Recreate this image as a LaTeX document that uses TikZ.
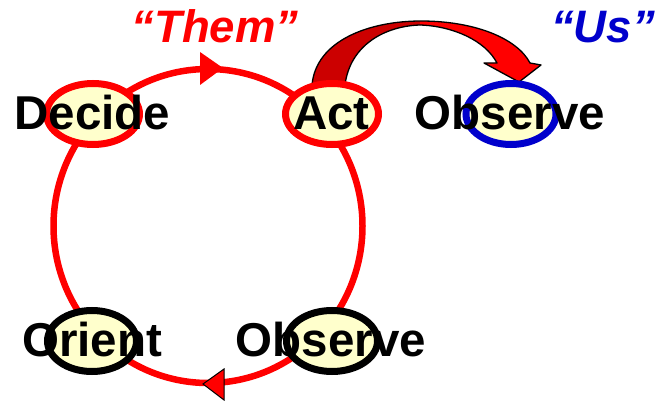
\documentclass[tikz,border=0pt]{standalone}
\usepackage{fontspec}
\setmainfont{Liberation Sans}
\usetikzlibrary{shapes.geometric}
\definecolor{ovfill}{HTML}{FFFFCC}
\definecolor{ovred}{HTML}{FF0000}
\definecolor{ovdark}{HTML}{CC0000}
\definecolor{ovblue}{HTML}{0000CC}
\begin{document}
\begin{tikzpicture}[x=1pt,y=-1pt,
  oval/.style={ellipse,draw,line width=7pt,fill=ovfill,inner sep=0pt,minimum width=93pt,minimum height=61pt},
  word/.style={anchor=base,inner sep=0pt,font=\fontsize{47.5}{50}\selectfont\bfseries},
  quote/.style={anchor=base,inner sep=0pt,font=\fontsize{45.5}{48}\selectfont\bfseries\itshape}]
\useasboundingbox (0,0) rectangle (659,401);
% loop
\coordinate (loopc) at (208,226);
\draw[ovred,line width=6.5pt] (loopc) ellipse [x radius=154.5, y radius=157];
% loop arrowheads
\fill[ovred] (223,68) -- (200,52) -- (200,85) -- cycle;
\filldraw[fill=ovred,draw=black,line width=1pt] (203,384) -- (224,369) -- (224,400) -- cycle;
% big curved block arrow
\fill[ovdark] (312,85) .. controls (316,40) and (370,21) .. (421,21) -- (421,25)
  .. controls (385,26) and (350,45) .. (345,85) -- cycle;
\fill[ovred] (420,21) .. controls (474,21) and (517,38) .. (530,63) -- (541,65) -- (519,82)
  -- (484,63) -- (497,63) .. controls (485,40) and (452,26) .. (420,25) -- cycle;
\draw[black,line width=1.3pt,line join=round] (312,85) .. controls (316,40) and (370,21) .. (421,21)
  .. controls (474,21) and (517,38) .. (530,63) -- (541,65) -- (519,82)
  -- (484,63) -- (497,63) .. controls (485,40) and (452,26) .. (420,25)
  .. controls (385,26) and (350,45) .. (345,85) -- cycle;
% ovals
\node[oval,draw=ovred] (decideo) at (93,114) {};
\node[oval,draw=ovred] (acto) at (332,114) {};
\node[oval,draw=ovblue,minimum width=90pt] (obso2) at (511,114) {};
\node[oval,draw=black,minimum width=89pt] (oriento) at (92,341) {};
\node[oval,draw=black,minimum width=91pt] (obso) at (332,341) {};
% words
\node[word] (decide) at (92.5,130) {Decide};
\node[word] (act) at (331.5,130) {Act};
\node[word] (obs2) at (510,130) {Observe};
\node[word] (orient) at (92,356) {Orient};
\node[word] (obs) at (331,356) {Observe};
\node[quote,text=ovred] (them) at (215,43) {“Them”};
\node[quote,text=ovblue] (us) at (603,43) {“Us”};
\end{tikzpicture}
\end{document}
